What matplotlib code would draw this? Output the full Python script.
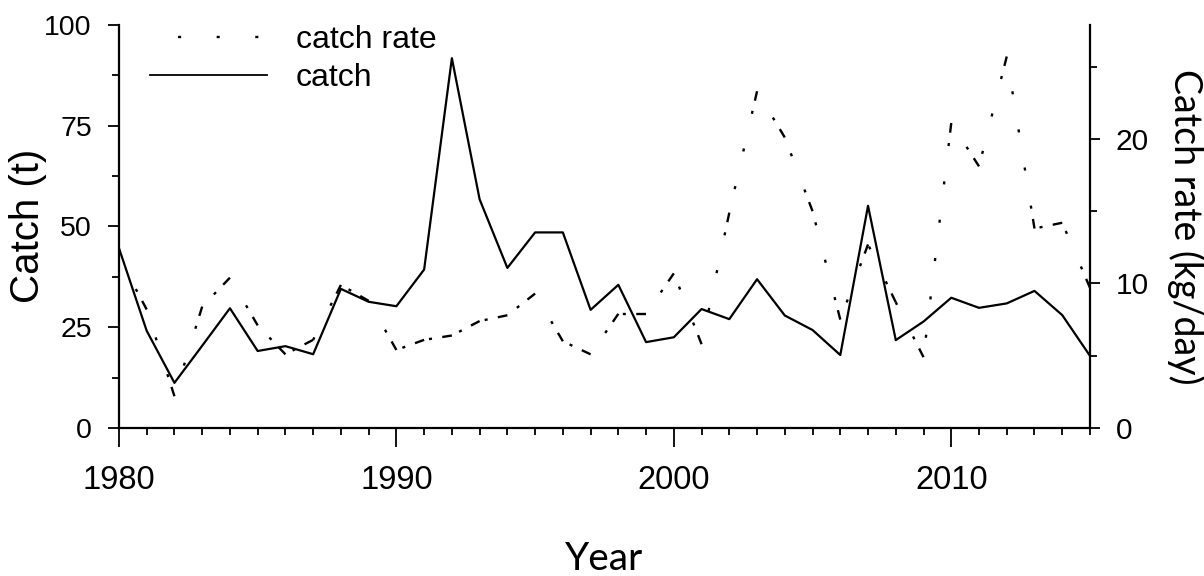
import numpy as np
import matplotlib
matplotlib.use("Agg")
import matplotlib.pyplot as plt
from matplotlib.lines import Line2D
from matplotlib.ticker import MultipleLocator

plt.rcParams['font.family'] = ['Liberation Sans', 'DejaVu Sans']
plt.rcParams['lines.scale_dashes'] = False

# data
years = np.arange(1980, 2016)
catch = [44.6, 24.1, 11.2, 20.4, 29.7, 19.1, 20.3, 18.3, 34.5, 31.3,
         30.2, 39.3, 91.7, 56.7, 39.7, 48.5, 48.5, 29.3, 35.5, 21.3,
         22.5, 29.5, 27.0, 36.9, 27.9, 24.3, 18.1, 55.1, 21.8, 26.4,
         32.3, 29.8, 30.9, 34.0, 28.0, 17.9]
catch_rate = [11.8, 8.2, 2.2, 8.4, 10.4, 7.1, 5.1, 6.1, 9.9, 8.8,
              5.4, 6.1, 6.4, 7.4, 7.8, 9.3, 6.0, 5.1, 7.9, 7.9,
              10.7, 5.8, 14.9, 23.3, 20.1, 15.0, 7.5, 12.7, 8.7, 4.9,
              21.1, 18.1, 25.7, 13.8, 14.2, 9.7]

# dash pattern (points): a dash at each year, then sparse dots
rate_dashes = [7, 7.5] + [2.2, 25.6] * 8

fig = plt.figure(figsize=(12.04, 5.76), dpi=100)
ax = fig.add_axes([0.0988, 0.2569, 0.8065, 0.7002])
ax2 = ax.twinx()

ax.plot(years, catch, color='black', lw=1.6)

# catch rate drawn one year-step at a time, pattern starting at the later year
for i in range(len(years) - 1):
    ax2.plot([years[i + 1], years[i]], [catch_rate[i + 1], catch_rate[i]],
             color='black', lw=1.7, linestyle=(0, rate_dashes),
             dash_capstyle='butt')

ax.set_xlim(1980, 2015)
ax.set_ylim(0, 100)
ax2.set_ylim(0, 27.9)

ax.xaxis.set_major_locator(MultipleLocator(10))
ax.xaxis.set_minor_locator(MultipleLocator(1))
ax.yaxis.set_major_locator(MultipleLocator(25))
ax.yaxis.set_minor_locator(MultipleLocator(12.5))
ax2.yaxis.set_major_locator(MultipleLocator(10))
ax2.yaxis.set_minor_locator(MultipleLocator(5))

for a in (ax, ax2):
    a.spines['top'].set_visible(False)
    for s in a.spines.values():
        s.set_linewidth(1.6)
ax.spines['right'].set_visible(False)
ax2.spines['left'].set_visible(False)
ax2.spines['bottom'].set_visible(False)

ax.tick_params(axis='x', which='major', direction='out', length=13.5, width=1.3,
               pad=13, labelsize=23.5)
ax.tick_params(axis='x', which='minor', direction='out', length=4.8, width=1.3)
ax.tick_params(axis='y', which='major', direction='out', length=8, width=1.3,
               pad=11.5, labelsize=20.5)
ax.tick_params(axis='y', which='minor', direction='out', length=4.8, width=1.3)
ax2.tick_params(axis='y', which='major', direction='out', length=7.2, width=1.3,
                pad=11.5, labelsize=21.5)
ax2.tick_params(axis='y', which='minor', direction='out', length=4.8, width=1.3)

ax.set_ylabel('Catch (t)', fontsize=29, va='center')
ax.yaxis.set_label_coords(-0.094, 0.5)
ax.set_xlabel('Year', fontsize=28, family=['Lato', 'DejaVu Sans'], va='baseline')
ax.xaxis.set_label_coords(0.5, -0.352)
ax2.set_ylabel('Catch rate (kg/day)', fontsize=27, family=['Lato', 'DejaVu Sans'],
               rotation=-90, va='center')
ax2.yaxis.set_label_coords(1.098, 0.5)

handles = [Line2D([], [], color='black', lw=1.7,
                  linestyle=(7.6, [2.2, 25.6]), dash_capstyle='butt'),
           Line2D([], [], color='black', lw=1.3)]
ax2.legend(handles, ['catch rate', 'catch'], loc='upper left',
           bbox_to_anchor=(150 / 1204, 1 - 25 / 576),
           bbox_transform=fig.transFigure, frameon=False, fontsize=23,
           handlelength=3.66, handletextpad=0.9, borderpad=0, borderaxespad=0,
           labelspacing=0.25)

fig.savefig('out.png', dpi=100)
